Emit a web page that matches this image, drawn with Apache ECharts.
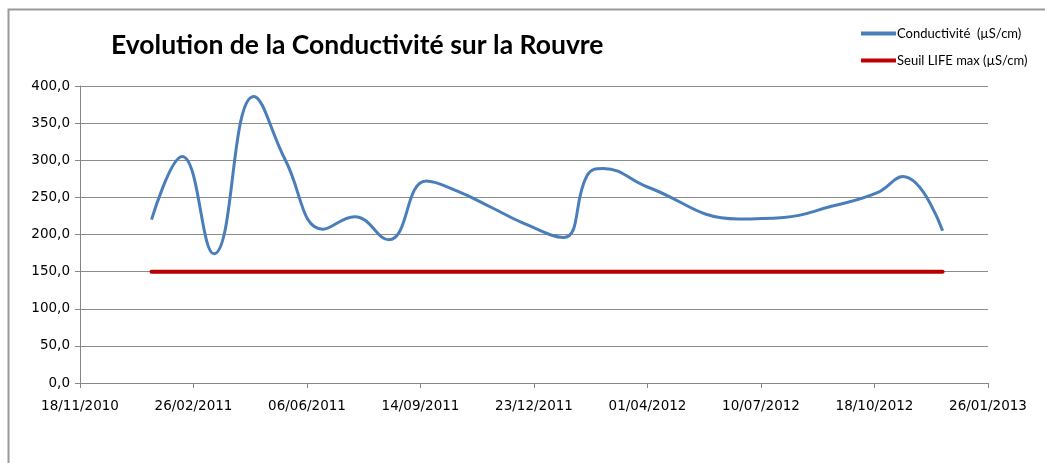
<!DOCTYPE html>
<html lang="fr">
<head>
  <meta charset="UTF-8">
  <title>Conductivité Rouvre</title>
  <style>
    html, body { margin: 0; padding: 0; background: #fff; }
    #main { width: 1045px; height: 463px; }
  </style>
</head>
<body>
<div id="main"></div>
<script src="https://cdn.jsdelivr.net/npm/echarts@6/dist/echarts.min.js"></script>
<script>
  // relevés de conductivité (µS/cm)
  var dates = [
    '20/01/2011', '16/02/2011', '16/03/2011', '20/04/2011', '18/05/2011',
    '20/06/2011', '18/07/2011', '17/08/2011', '19/09/2011', '17/10/2011',
    '16/11/2011', '14/12/2011', '18/01/2012', '08/02/2012', '22/02/2012',
    '01/04/2012', '20/06/2012', '30/07/2012', '10/09/2012',
    '20/10/2012', '12/11/2012', '17/12/2012'
  ]
  var conductivite = [
    220, 305, 174, 386, 300,
    207, 224, 193, 272, 258,
    236, 215, 196, 280, 289,
    264, 221, 223, 238,
    256, 278, 205
  ]
  var seuilDates = ['20/01/2011', '17/12/2012']
  var seuilValeurs = [150, 150]

  var axisStart = '18/11/2010'
  var axisEnd = '26/01/2013'
  var DAY = 86400000

  function parseDate(s) {
    var p = s.split('/')
    return Date.UTC(+p[2], +p[1] - 1, +p[0])
  }
  var t0 = parseDate(axisStart)
  function dayOf(s) { return Math.round((parseDate(s) - t0) / DAY) }
  function pad(n) { return n < 10 ? '0' + n : '' + n }
  function fmtDay(d) {
    var dt = new Date(t0 + d * DAY)
    return pad(dt.getUTCDate()) + '/' + pad(dt.getUTCMonth() + 1) + '/' + dt.getUTCFullYear()
  }

  var serie1 = dates.map(function(d, i) { return [dayOf(d), conductivite[i]] })
  var serie2 = seuilDates.map(function(d, i) { return [dayOf(d), seuilValeurs[i]] })

  var font = 'Lato, "Open Sans", sans-serif'
  var axisFont = '"DejaVu Sans", Verdana, sans-serif'
  var myChart = echarts.init(document.getElementById('main'), null, { renderer: 'canvas' })

  var option = {
    backgroundColor: '#fff',
    animation: false,
    textStyle: { fontFamily: font },
    graphic: [{
      type: 'rect',
      shape: { x: 8.5, y: 9.5, width: 1100, height: 500 },
      style: { fill: 'none', stroke: '#9a9a9a', lineWidth: 2 },
      silent: true
    }],
    title: {
      text: 'Evolution de la Conductivité sur la Rouvre',
      left: 106,
      top: 27,
      textStyle: { fontFamily: font, fontSize: 26.5, fontWeight: 'bold', color: '#000' }
    },
    legend: {
      orient: 'vertical',
      left: 856,
      top: 22,
      itemGap: 14,
      itemWidth: 35,
      itemHeight: 4,
      icon: 'rect',
      textStyle: { fontFamily: font, fontSize: 13, color: '#000', padding: [0, 0, 0, -4] },
      data: ['Conductivité  (µS/cm)', 'Seuil LIFE max (µS/cm)']
    },
    grid: { left: 80, right: 57, top: 86, bottom: 80 },
    xAxis: {
      type: 'value',
      min: 0,
      max: dayOf(axisEnd),
      interval: 100,
      axisLine: { show: true, lineStyle: { color: '#868686', width: 1 } },
      axisTick: { show: true, length: 5, lineStyle: { color: '#868686' } },
      splitLine: { show: false },
      axisLabel: {
        color: '#000',
        fontFamily: axisFont,
        fontSize: 13.5,
        margin: 16,
        formatter: function(v) { return fmtDay(v) }
      }
    },
    yAxis: {
      type: 'value',
      min: 0,
      max: 400,
      interval: 50,
      axisLine: { show: true, lineStyle: { color: '#868686', width: 1 } },
      axisTick: { show: true, length: 5, lineStyle: { color: '#868686' } },
      splitLine: { show: true, lineStyle: { color: '#8c8c8c', width: 1 } },
      axisLabel: {
        color: '#000',
        fontFamily: axisFont,
        fontSize: 13.5,
        margin: 10,
        formatter: function(v) { return v.toFixed(1).replace('.', ',') }
      }
    },
    series: [
      {
        name: 'Conductivité  (µS/cm)',
        type: 'line',
        data: serie1,
        smooth: 0.45,
        symbol: 'none',
        color: '#4a7ebb',
        lineStyle: { color: '#4a7ebb', width: 3 },
        z: 3
      },
      {
        name: 'Seuil LIFE max (µS/cm)',
        type: 'line',
        data: serie2,
        symbol: 'none',
        color: '#c00000',
        lineStyle: { color: '#b80000', width: 4, cap: 'round' },
        z: 2
      }
    ]
  }

  myChart.setOption(option)
  window.addEventListener('resize', myChart.resize)
</script>
</body>
</html>
